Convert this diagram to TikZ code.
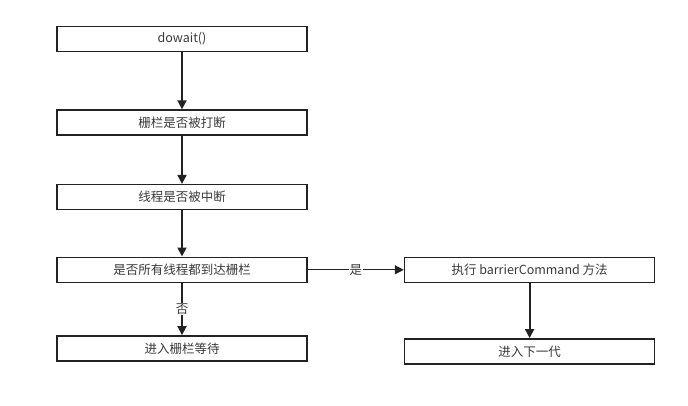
\documentclass[tikz,border=0pt]{standalone}
\usepackage{fontspec}
\setmainfont{Noto Sans CJK SC}
\usepackage{xcolor}
\usepackage{tikz}
\usetikzlibrary{arrows.meta,positioning}
\definecolor{inkgray}{HTML}{222222}
\definecolor{textgray}{HTML}{3A3A3A}

\begin{document}
\begin{tikzpicture}[
    x=1pt, y=1pt,
    font=\fontsize{12.5}{14}\selectfont,
    text=textgray,
    block/.style={
        draw=inkgray,
        line width=1.6pt,
        minimum width=250pt,
        minimum height=25pt,
        inner sep=0pt,
        fill=white
    },
    line/.style={-{Triangle[length=9pt,width=9pt]}, line width=1.8pt, draw=inkgray},
    answer/.style={fill=white, inner sep=1pt}
]
\useasboundingbox (0,0) rectangle (688,-406);

% --- Left column ---
\node[block] (dowait) at (182,-39) {dowait()};
\node[block, below=57pt of dowait] (broken) {栅栏是否被打断};
\node[block, below=48pt of broken] (interrupted) {线程是否被中断};
\node[block, below=46pt of interrupted] (arrived) {是否所有线程都到达栅栏};
\node[block, below=52pt of arrived] (wait) {进入栅栏等待};

% --- Right column ---
\node[block, right=96pt of arrived] (command) {执行 barrierCommand 方法};
\node[block, below=55pt of command] (nextgen) {进入下一代};

% --- Connections ---
\draw[line] (dowait) -- (broken);
\draw[line] (broken) -- (interrupted);
\draw[line] (interrupted) -- (arrived);

\draw[line] (arrived) -- node[answer]{否} (wait);
\draw[line, line width=1.3pt] (arrived) -- node[answer]{是} (command);

\draw[line] (command) -- (nextgen);

\end{tikzpicture}
\end{document}
